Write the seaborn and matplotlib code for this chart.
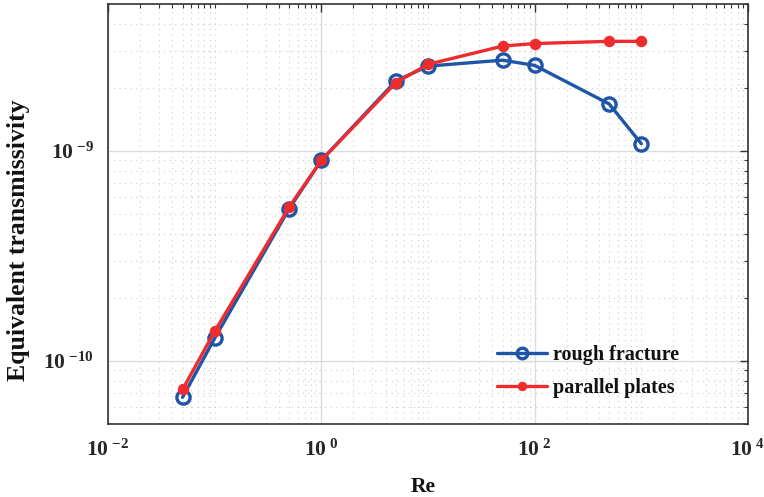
import numpy as np
import pandas as pd
import matplotlib
matplotlib.use("Agg")
import matplotlib.pyplot as plt
import matplotlib.ticker as mticker
import seaborn as sns

# Reynolds numbers and equivalent transmissivity of both geometries
re_values = [0.05, 0.1, 0.5, 1, 5, 10, 50, 100, 500, 1000]
rough_fracture = [6.7e-11, 1.28e-10, 5.3e-10, 9.0e-10, 2.15e-9, 2.53e-9, 2.70e-9, 2.55e-9, 1.67e-9, 1.08e-9]
parallel_plates = [7.3e-11, 1.38e-10, 5.4e-10, 9.0e-10, 2.11e-9, 2.58e-9, 3.15e-9, 3.24e-9, 3.32e-9, 3.32e-9]

x_ticks = [1e-2, 1e0, 1e2, 1e4]
x_tick_labels = [r"$10^{\ {-2}}$", r"$10^{\ {0}}$", r"$10^{\ {2}}$", r"$10^{\ {4}}$"]
y_ticks = [1e-10, 1e-9]
y_tick_labels = [r"$10^{\ {-10}}$", r"$10^{\ {-9}}$"]

sns.set_theme(style="white")
plt.rcParams["font.family"] = ["Liberation Serif", "DejaVu Serif"]
plt.rcParams["font.weight"] = "bold"
plt.rcParams["mathtext.fontset"] = "custom"
plt.rcParams["mathtext.rm"] = "Liberation Serif:bold"
plt.rcParams["mathtext.it"] = "Liberation Serif:bold"
plt.rcParams["mathtext.bf"] = "Liberation Serif:bold"
plt.rcParams["mathtext.default"] = "rm"

df = pd.DataFrame({
    "Re": re_values * 2,
    "T": rough_fracture + parallel_plates,
    "series": ["rough fracture"] * len(re_values) + ["parallel plates"] * len(re_values),
})

fig = plt.figure(figsize=(7.64, 4.97), dpi=100)
ax = fig.add_axes([0.1414, 0.147, 0.8376, 0.845])

blue = "#1f55a6"
red = "#ee2c2e"

sns.lineplot(data=df[df.series == "rough fracture"], x="Re", y="T", ax=ax,
             color=blue, lw=2.4, marker="o", markersize=9.5,
             markerfacecolor="none", markeredgecolor=blue, markeredgewidth=2.4,
             label="rough fracture", zorder=3)
sns.lineplot(data=df[df.series == "parallel plates"], x="Re", y="T", ax=ax,
             color=red, lw=2.4, marker="o", markersize=7.5,
             markerfacecolor=red, markeredgecolor=red,
             label="parallel plates", zorder=4)

ax.set_xscale("log")
ax.set_yscale("log")
ax.set_xlim(1e-2, 1e4)
ax.set_ylim(5e-11, 5e-9)

ax.xaxis.set_major_locator(mticker.FixedLocator(x_ticks))
ax.xaxis.set_major_formatter(mticker.FixedFormatter(x_tick_labels))
ax.xaxis.set_minor_locator(mticker.LogLocator(base=10, subs=np.arange(1, 10), numticks=20))
ax.xaxis.set_minor_formatter(mticker.NullFormatter())
ax.yaxis.set_major_locator(mticker.FixedLocator(y_ticks))
ax.yaxis.set_major_formatter(mticker.FixedFormatter(y_tick_labels))
ax.yaxis.set_minor_locator(mticker.LogLocator(base=10, subs=np.arange(1, 10), numticks=20))
ax.yaxis.set_minor_formatter(mticker.NullFormatter())

ax.grid(True, which="major", color="#dcdcdc", lw=1.0, ls="-")
ax.grid(True, which="minor", color="#cccccc", lw=0.8, ls=(0, (1, 4)))
ax.set_axisbelow(True)

ax.tick_params(which="both", direction="in", top=True, right=True, colors="#333333")
ax.tick_params(which="major", length=6, width=1, labelsize=15.5, labelcolor="#262626")
ax.tick_params(which="minor", length=3, width=0.8)
ax.tick_params(axis="x", which="major", pad=11)
ax.tick_params(axis="y", which="major", pad=10)
for s in ax.spines.values():
    s.set_color("#333333")
    s.set_linewidth(1.2)

ax.set_xlabel("Re", fontsize=15.5, fontweight="bold", color="#111111")
ax.set_ylabel("Equivalent transmissivity", fontsize=18.5, fontweight="bold", color="#111111")
ax.xaxis.set_label_coords(0.492, -0.127)
ax.yaxis.set_label_coords(-0.122, 0.438)

leg = ax.legend(loc="center left", bbox_to_anchor=(0.608, 0.125), frameon=False,
                borderaxespad=0, borderpad=0, markerscale=0.8,
                prop={"family": "Liberation Serif", "weight": "bold", "size": 14.5},
                handlelength=2.5, handletextpad=0.3, labelspacing=0.68)
for t in leg.get_texts():
    t.set_color("#111111")

fig.savefig("out.png", dpi=100)
